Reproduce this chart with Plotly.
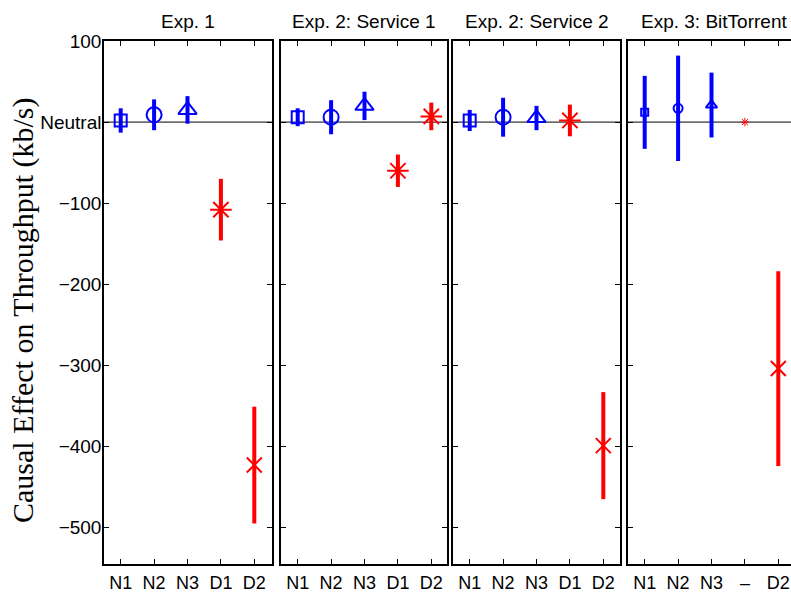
import plotly.graph_objects as go

# Categories and tick labels for each panel
panel_titles = ["Exp. 1", "Exp. 2: Service 1", "Exp. 2: Service 2", "Exp. 3: BitTorrent"]
labels_std = ["N1", "N2", "N3", "D1", "D2"]
labels_bt = ["N1", "N2", "N3", "\u2013", "D2"]

# Causal effect estimates (kb/s) and error half-widths
exp1_mean = [2, 9, 15, -108, -423]
exp1_err = [15, 19, 17, 38, 72]
svc1_mean = [6, 6, 20, -60, 7]
svc1_err = [11, 21, 17.5, 20, 17]
svc2_mean = [2, 6, 5, 2, -399]
svc2_err = [13, 24, 15, 19.5, 66]
bt_mean = [12, 17, 21, 0, -304]
bt_err = [45, 65, 40, 0, 120]

y_ticks = [100, 0, -100, -200, -300, -400, -500]
y_ticktext = ["100", "Neutral", "\u2212100", "\u2212200", "\u2212300", "\u2212400", "\u2212500"]

BLUE = "#0000ff"
RED = "#ff0000"
FONT = "Liberation Sans, Arial, sans-serif"

# marker style per category: (symbol, size, color, line width)
big_markers = [
    ("square-open", 12, BLUE, 2),
    ("circle-open", 15, BLUE, 2),
    ("triangle-up-open", 16, BLUE, 2),
    ("asterisk-open", 18, RED, 2),
    ("x-thin-open", 15, RED, 2),
]
svc1_markers = big_markers[:4] + [("asterisk-open", 18, RED, 2)]
bt_markers = [
    ("square-open", 7, BLUE, 2),
    ("circle-open", 9, BLUE, 2),
    ("triangle-up-open", 10, BLUE, 2),
    ("asterisk-open", 7, RED, 1),
    ("x-thin-open", 15, RED, 2),
]

panels = [
    (exp1_mean, exp1_err, big_markers, labels_std),
    (svc1_mean, svc1_err, svc1_markers, labels_std),
    (svc2_mean, svc2_err, big_markers, labels_std),
    (bt_mean, bt_err, bt_markers, labels_bt),
]

# plot area in pixels: left 104 .. right 791
W, H = 791, 593
L, R, T, B = 104, 0, 41, 27
pw = W - L - R
px_panels = [(104, 272), (281, 447), (453, 620), (628, 800)]
unit = 167 / 5.0

fig = go.Figure()
layout = {}
for i, (means, errs, mk, labels) in enumerate(panels):
    n = i + 1
    xa = "x" if n == 1 else f"x{n}"
    ya = "y" if n == 1 else f"y{n}"
    for j in range(5):
        sym, size, col, lw = mk[j]
        fig.add_trace(go.Scatter(
            x=[j + 1], y=[means[j]], mode="markers",
            marker=dict(symbol=sym, size=size, color=col,
                        line=dict(color=col, width=lw)),
            error_y=dict(type="data", array=[errs[j]], visible=errs[j] > 0,
                         color=col, thickness=4, width=0),
            xaxis=xa, yaxis=ya, showlegend=False, cliponaxis=False,
        ))
    x0, x1 = px_panels[i]
    d0 = (x0 - L) / pw
    d1 = min((x1 - L) / pw, 1.0)
    xmax = 0.5 + (min(x1, W) - x0) / unit
    xkey = "xaxis" if n == 1 else f"xaxis{n}"
    ykey = "yaxis" if n == 1 else f"yaxis{n}"
    layout[xkey] = dict(
        domain=[d0, d1], range=[0.5, xmax], anchor=ya,
        tickvals=[1, 2, 3, 4, 5], ticktext=labels,
        ticks="inside", ticklen=5, tickcolor="black", tickwidth=1,
        showline=True, linecolor="black", linewidth=1.5, mirror="ticks",
        showgrid=False, zeroline=False,
        ticklabelstandoff=2,
        tickfont=dict(family=FONT, size=18, color="black"),
    )
    layout[ykey] = dict(
        range=[-545, 100], anchor=xa,
        tickvals=y_ticks, ticktext=y_ticktext,
        ticks="inside", ticklen=5, tickcolor="black", tickwidth=1,
        showline=True, linecolor="black", linewidth=1.5,
        mirror="ticks" if n < 4 else False,
        showgrid=False, zeroline=False,
        showticklabels=(n == 1),
        ticklabelstandoff=-3,
        tickfont=dict(family=FONT, size=19, color="black"),
    )
    # neutral reference line
    fig.add_shape(type="line", xref=f"{xa} domain", yref=ya,
                  x0=0, x1=1, y0=0, y1=0,
                  line=dict(color="black", width=1), layer="below")
    # panel title, centred over the full panel width
    cx = ((x0 + x1) / 2 - L) / pw
    fig.add_annotation(text=panel_titles[i], xref="paper", yref="paper",
                       x=cx, y=1, xanchor="center", yanchor="bottom", yshift=7,
                       showarrow=False,
                       font=dict(family=FONT, size=19, color="black"))

fig.add_annotation(text="Causal Effect on Throughput (kb/s)",
                   xref="paper", yref="paper",
                   x=(23 - L) / pw, y=(H - B - 312) / (H - T - B),
                   xanchor="center", yanchor="middle", textangle=-90,
                   showarrow=False,
                   font=dict(family="Liberation Serif, Times New Roman, serif",
                             size=30, color="black"))

fig.update_layout(
    width=W, height=H,
    margin=dict(l=L, r=R, t=T, b=B),
    paper_bgcolor="white", plot_bgcolor="white",
    **layout,
)

fig.write_html("out.html")
